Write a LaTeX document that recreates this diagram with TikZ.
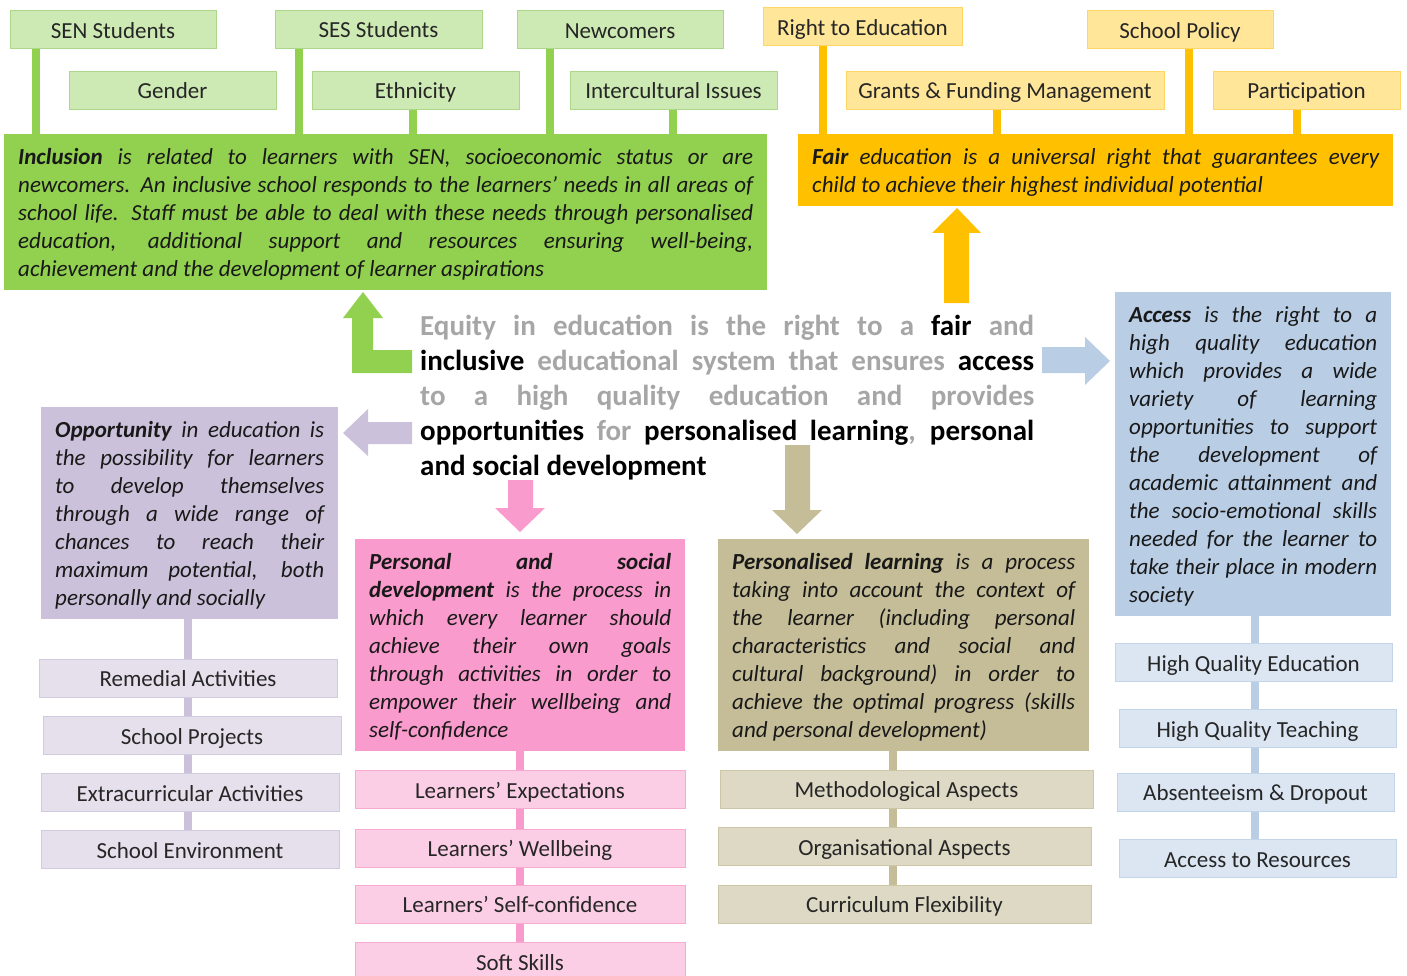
\documentclass[tikz,border=0pt]{standalone}
\usepackage{fontspec}
\setmainfont{Carlito}
\usepackage{xcolor}

\definecolor{grnmain}{RGB}{146,208,80}
\definecolor{grnlight}{RGB}{206,234,180}
\definecolor{grnline}{RGB}{172,214,138}
\definecolor{yelmain}{RGB}{255,192,0}
\definecolor{yellight}{RGB}{255,230,153}
\definecolor{yelline}{RGB}{255,214,100}
\definecolor{purmain}{RGB}{204,193,218}
\definecolor{purlight}{RGB}{229,224,236}
\definecolor{purline}{RGB}{210,202,222}
\definecolor{pnkmain}{RGB}{250,155,205}
\definecolor{pnklight}{RGB}{252,206,230}
\definecolor{pnkline}{RGB}{247,170,210}
\definecolor{tanmain}{RGB}{196,189,151}
\definecolor{tanlight}{RGB}{221,217,196}
\definecolor{tanline}{RGB}{205,199,168}
\definecolor{blumain}{RGB}{185,205,229}
\definecolor{blulight}{RGB}{220,230,242}
\definecolor{bluline}{RGB}{196,213,234}
\definecolor{eqgray}{RGB}{166,166,166}

\newcommand{\tagfont}{\fontsize{23}{28}\selectfont}
\newcommand{\descfont}{\fontsize{23}{28}\selectfont\itshape}
\newcommand{\eqfont}{\fontsize{29}{35}\selectfont\bfseries}
\newcommand{\kw}[1]{\textcolor{black}{#1}}
% first and last line struts of the description boxes
\newcommand{\topstrut}{\vrule height 22.6pt depth 0pt width 0pt}
\newcommand{\botstrut}{\vrule height 0pt depth 5.4pt width 0pt}

\hyphenpenalty=10000
\exhyphenpenalty=10000

\tikzset{
  tag/.style={draw=#1line, fill=#1light, line width=1pt, minimum height=38pt,
    text height=21pt, text depth=4pt, inner sep=0pt, font=\tagfont, text=black!85},
  desc/.style={fill=#1main, anchor=north west, inner xsep=14pt, inner ysep=8pt,
    align=justify, font=\descfont, text=black!90},
  link/.style={draw=#1main, line width=8pt},
  blockarrow/.style={fill=#1main}
}

\begin{document}
\begin{tikzpicture}[x=1pt, y=-1pt]
    % Page frame
    \clip (0,0) rectangle (1407,976);
    \useasboundingbox (0,0) rectangle (1407,976);

    % Inclusion (green, top left)
    \node[desc=grn, text width=735pt] (incl) at (4,134) {\topstrut\textbf{Inclusion} is related to learners with SEN, socioeconomic status or are\linebreak newcomers. An inclusive school responds to the learners’ needs in all areas of\linebreak school life. Staff must be able to deal with these needs through personalised\linebreak education, additional support and resources ensuring well-being,\linebreak achievement and the development of learner aspirations\botstrut};
    \foreach \name/\x/\y/\w/\txt in {sen/113/30/206/SEN Students, gender/172.5/90.5/207/Gender, ses/378.5/29.5/207/SES Students, eth/415.5/90.5/207/Ethnicity, newc/620/30/206/Newcomers, inter/673.5/90.5/207/Intercultural Issues} {
        \node[tag=grn, minimum width=\w pt] (\name) at (\x,\y) {\txt};
    }
    \foreach \name/\dx in {sen/-77, ses/-80, eth/-3, newc/-70, inter/-1} {
        \draw[link=grn] ([xshift=\dx pt]\name.south) coordinate (top) -- (top |- incl.north);
    }

    % Fair (yellow, top right)
    \node[desc=yel, text width=567pt] (fair) at (798,134) {\topstrut\textbf{Fair} education is a universal right that guarantees every\linebreak child to achieve their highest individual potential\botstrut};
    \foreach \name/\x/\y/\w/\txt in {right/862.5/27/199/Right to Education, grants/1005/90.5/318/Grants \& Funding Management, policy/1180/30/186/School Policy, partic/1306.5/90.5/187/Participation} {
        \node[tag=yel, minimum width=\w pt] (\name) at (\x,\y) {\txt};
    }
    \foreach \name/\dx in {right/-40, grants/-8, policy/9, partic/-10} {
        \draw[link=yel] ([xshift=\dx pt]\name.south) coordinate (top) -- (top |- fair.north);
    }

    % Equity statement in the middle
    \node[anchor=north west, inner sep=0pt, text width=614pt, align=justify, font=\eqfont, text=eqgray] (equity) at (420,310.5) {\strut Equity in education is the right to a \kw{fair} and\linebreak \kw{inclusive} educational system that ensures \kw{access}\linebreak to a high quality education and provides\linebreak \kw{opportunities} for \kw{personalised learning}, \kw{personal}\linebreak \kw{and social development}\strut};

    % Block arrows out of the statement
    \fill[blockarrow=grn] (352,373) -- (352,318) -- (343,318) -- (363,292) -- (383,318) -- (373,318) -- (373,350) -- (412,350) -- (412,373) -- cycle;
    \fill[blockarrow=yel] (944,303) -- (944,233) -- (932,233) -- (957,208) -- (981,233) -- (969,233) -- (969,303) -- cycle;
    \fill[blockarrow=blu] (1042,347) -- (1085,347) -- (1085,337) -- (1110,361) -- (1085,385) -- (1085,373) -- (1042,373) -- cycle;
    \fill[blockarrow=pur] (412,422) -- (368,422) -- (368,409) -- (343,433) -- (368,456) -- (368,444) -- (412,444) -- cycle;
    \fill[blockarrow=pnk] (508,480) -- (533,480) -- (533,508) -- (545,508) -- (520,532) -- (495,508) -- (508,508) -- cycle;
    \fill[blockarrow=tan] (785,445) -- (810,445) -- (810,510) -- (822,510) -- (797,534) -- (772,510) -- (785,510) -- cycle;

    % Opportunity (purple column)
    \node[desc=pur, text width=269pt] (opp) at (41,407) {\topstrut\textbf{Opportunity} in education is\linebreak the possibility for learners\linebreak to develop themselves\linebreak through a wide range of\linebreak chances to reach their\linebreak maximum potential, both\linebreak personally and socially\botstrut};
    \foreach \name/\x/\y/\txt in {rem/188/678/Remedial Activities, proj/192/735.5/School Projects, extra/190/792.5/Extracurricular Activities, env/190/849.5/School Environment} {
        \node[tag=pur, minimum width=298pt] (\name) at (\x,\y) {\txt};
    }
    \coordinate (pcol) at ([xshift=-2pt]opp.south);
    \foreach \a/\b in {opp/rem, rem/proj, proj/extra, extra/env} {
        \draw[link=pur] (\a.south -| pcol) -- (\b.north -| pcol);
    }

    % Personal and social development (pink column)
    \node[desc=pnk, text width=302pt] (pers) at (355,539) {\topstrut\textbf{Personal and social}\linebreak \textbf{development} is the process in\linebreak which every learner should\linebreak achieve their own goals\linebreak through activities in order to\linebreak empower their wellbeing and\linebreak self-confidence\botstrut};
    \foreach \name/\y/\txt in {expect/789.5/Learners’ Expectations, well/848/Learners’ Wellbeing, selfc/904/Learners’ Self-confidence, soft/961.5/Soft Skills} {
        \node[tag=pnk, minimum width=330pt] (\name) at (520,\y) {\txt};
    }
    \coordinate (kcol) at (pers.south);
    \foreach \a/\b in {pers/expect, expect/well, well/selfc, selfc/soft} {
        \draw[link=pnk] (\a.south -| kcol) -- (\b.north -| kcol);
    }

    % Personalised learning (tan column)
    \node[desc=tan, text width=343pt] (plearn) at (718,539) {\topstrut\textbf{Personalised learning} is a process\linebreak taking into account the context of\linebreak the learner (including personal\linebreak characteristics and social and\linebreak cultural background) in order to\linebreak achieve the optimal progress (skills\linebreak and personal development)\botstrut};
    \foreach \name/\x/\y/\txt in {meth/906.5/789/Methodological Aspects, organ/904.5/846.5/Organisational Aspects, curr/904.5/904/Curriculum Flexibility} {
        \node[tag=tan, minimum width=373pt] (\name) at (\x,\y) {\txt};
    }
    \coordinate (tcol) at ([xshift=-11pt]plearn.south);
    \foreach \a/\b in {plearn/meth, meth/organ, organ/curr} {
        \draw[link=tan] (\a.south -| tcol) -- (\b.north -| tcol);
    }

    % Access (blue column)
    \node[desc=blu, text width=248pt] (acc) at (1115,292) {\topstrut\textbf{Access} is the right to a\linebreak high quality education\linebreak which provides a wide\linebreak variety of learning\linebreak opportunities to support\linebreak the development of\linebreak academic attainment and\linebreak the socio-emotional skills\linebreak needed for the learner to\linebreak take their place in modern\linebreak society\botstrut};
    \foreach \name/\x/\y/\txt in {hqe/1253.5/662.5/High Quality Education, hqt/1257.5/728.5/High Quality Teaching, absent/1255.5/792/Absenteeism \& Dropout, accres/1257.5/858.5/Access to Resources} {
        \node[tag=blu, minimum width=277pt] (\name) at (\x,\y) {\txt};
    }
    \coordinate (bcol) at ([xshift=2pt]acc.south);
    \foreach \a/\b in {acc/hqe, hqe/hqt, hqt/absent, absent/accres} {
        \draw[link=blu] (\a.south -| bcol) -- (\b.north -| bcol);
    }
\end{tikzpicture}
\end{document}
